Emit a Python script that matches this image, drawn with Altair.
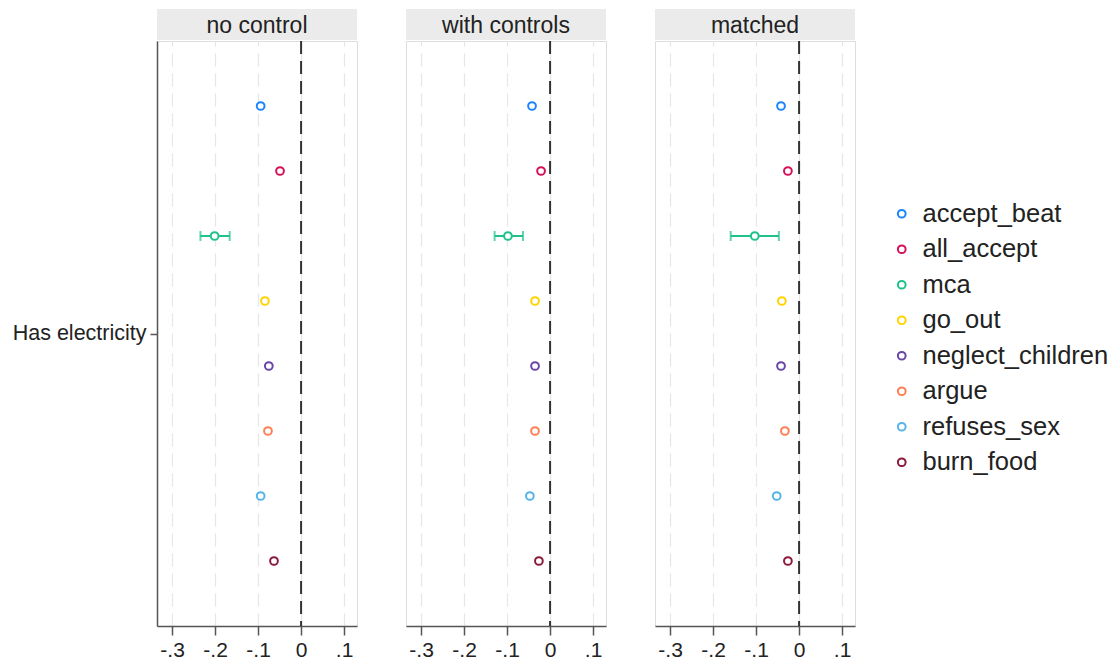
import json
import altair as alt
import pandas as pd

# ---------------- data ----------------
panels = ["no control", "with controls", "matched"]
series = ["accept_beat", "all_accept", "mca", "go_out",
          "neglect_children", "argue", "refuses_sex", "burn_food"]
colors = ["#1a85ff", "#d41159", "#1fc28a", "#ffd400",
          "#6a45a8", "#ff7f55", "#56b4e9", "#8b1a3b"]

est_no_control = [-0.094, -0.049, -0.201, -0.084, -0.075, -0.077, -0.094, -0.063]
est_with_controls = [-0.042, -0.021, -0.098, -0.035, -0.035, -0.035, -0.047, -0.026]
est_matched = [-0.042, -0.026, -0.103, -0.040, -0.042, -0.033, -0.052, -0.026]

# confidence interval visible only for mca (others hidden by marker)
ci_series = "mca"
ci_lo = [-0.234, -0.129, -0.159]
ci_hi = [-0.166, -0.063, -0.047]

x_ticks = [-0.3, -0.2, -0.1, 0, 0.1]
x_tick_labels = ["-.3", "-.2", "-.1", "0", ".1"]
y_label = "Has electricity"

# ---------------- tables ----------------
estimates = [est_no_control, est_with_controls, est_matched]
rows = []
for p, vals in zip(panels, estimates):
    for i, (s, v) in enumerate(zip(series, vals)):
        rows.append({"panel": p, "series": s, "pos": i + 1, "est": v})
df = pd.DataFrame(rows)

ci_rows = []
for p, lo, hi in zip(panels, ci_lo, ci_hi):
    ci_rows.append({"panel": p, "series": ci_series,
                    "pos": series.index(ci_series) + 1, "lo": lo, "hi": hi})
ci_df = pd.DataFrame(ci_rows)
ci_color = colors[series.index(ci_series)]

FONT = "Liberation Sans"
W, H = 200, 585
TEXT = "#222222"
AXIS = "#555555"

x_label_expr = json.dumps(x_tick_labels) + "[round(datum.value*10)+3]"

color_enc = alt.Color(
    "series:N",
    scale=alt.Scale(domain=series, range=colors),
    legend=alt.Legend(title=None, symbolType="circle", labelLimit=400),
)


def panel(name, show_y):
    xscale = alt.Scale(domain=[-0.335, 0.13], nice=False, zero=False)
    xaxis = alt.Axis(
        values=x_ticks, labelExpr=x_label_expr, title=None,
        grid=True, gridDash=[13, 7], gridColor="#e6e6e6", gridWidth=1.2,
        domainColor=AXIS, domainWidth=1.5, tickColor=AXIS, tickWidth=1.5,
        tickSize=9, labelFontSize=21, labelPadding=4, labelColor=TEXT,
        labelFont=FONT,
    )
    yscale = alt.Scale(domain=[0, 9], reverse=True, nice=False, zero=False)
    if show_y:
        yaxis = alt.Axis(
            values=[4.5], labelExpr="'" + y_label + "'", title=None,
            grid=False, domainColor=AXIS, domainWidth=1.5, tickColor=AXIS,
            tickWidth=1.5, tickSize=7, labelFontSize=21.5, labelPadding=4,
            labelColor=TEXT, labelFont=FONT, labelLimit=400,
        )
    else:
        yaxis = None

    x = alt.X("est:Q", scale=xscale, axis=xaxis)
    y = alt.Y("pos:Q", scale=yscale, axis=yaxis)

    strip_data = pd.DataFrame({"panel": [name]})
    strip = alt.Chart(strip_data).mark_rect(color="#ebebeb").encode(
        x=alt.value(0), x2=alt.value(W), y=alt.value(-32), y2=alt.value(-1)
    )
    strip_text = alt.Chart(strip_data).mark_text(
        fontSize=23, font=FONT, color=TEXT, baseline="middle", align="center"
    ).encode(text="panel:N", x=alt.value(W / 2), y=alt.value(-15))

    zero = alt.Chart(pd.DataFrame({"zero": [0]})).mark_rule(
        strokeDash=[13, 7], color="#333333", strokeWidth=2
    ).encode(x=alt.X("zero:Q", scale=xscale, axis=xaxis))

    cid = ci_df[ci_df["panel"] == name]
    whisk = alt.Chart(cid).mark_rule(strokeWidth=2, color=ci_color).encode(
        x=alt.X("lo:Q", scale=xscale, axis=xaxis), x2="hi:Q", y=y,
    )
    cap_lo = alt.Chart(cid).mark_tick(
        orient="vertical", thickness=2, size=10, color=ci_color
    ).encode(x=alt.X("lo:Q", scale=xscale, axis=xaxis), y=y)
    cap_hi = alt.Chart(cid).mark_tick(
        orient="vertical", thickness=2, size=10, color=ci_color
    ).encode(x=alt.X("hi:Q", scale=xscale, axis=xaxis), y=y)

    d = df[df["panel"] == name]
    pts = alt.Chart(d).mark_point(
        shape="circle", filled=False, strokeWidth=2, size=60, opacity=1,
        fill="white", fillOpacity=1,
    ).encode(x=x, y=y, color=color_enc)

    return alt.layer(strip, strip_text, zero, whisk, cap_lo, cap_hi, pts).properties(
        width=W, height=H
    )


chart = alt.hconcat(
    panel(panels[0], True), panel(panels[1], False), panel(panels[2], False),
    spacing=47,
).resolve_scale(color="shared").properties(
    padding={"left": 3, "top": 0, "right": 0, "bottom": 0}
).configure_view(stroke=None).configure(
    font=FONT
).configure_legend(
    orient="none", legendX=732, legendY=160,
    labelFontSize=25.5, labelColor=TEXT, labelFont=FONT,
    symbolSize=60, symbolStrokeWidth=2,
    rowPadding=8.5, labelOffset=8, padding=0,
)

chart.save("out.html", embed_options={"renderer": "svg", "actions": False})
